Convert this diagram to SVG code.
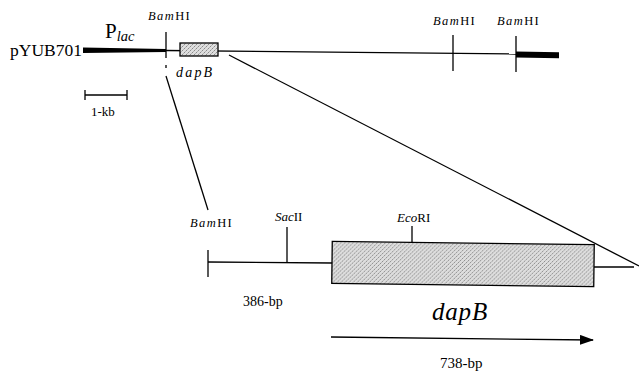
<svg xmlns="http://www.w3.org/2000/svg" width="639" height="373" viewBox="0 0 639 373">
  <defs>
    <!-- stippled fill for the dapB coding region -->
    <pattern id="stipple" width="4" height="4" patternUnits="userSpaceOnUse">
      <rect width="4" height="4" fill="#dedede"/>
      <rect x="0" y="0" width="1" height="1" fill="#8c8c8c"/>
      <rect x="2" y="2" width="1" height="1" fill="#8c8c8c"/>
      <rect x="1" y="3" width="1" height="1" fill="#b4b4b4"/>
      <rect x="3" y="1" width="1" height="1" fill="#b4b4b4"/>
    </pattern>
    <marker id="arrowhead" markerWidth="14" markerHeight="10" refX="13" refY="5" orient="auto" markerUnits="userSpaceOnUse">
      <path d="M0,0 L14,5 L0,10 Z" fill="#000"/>
    </marker>
  </defs>
  <style>
    text { font-family: "Liberation Serif", "Times New Roman", serif; fill: #000; }
    .site { font-size: 12.5px; letter-spacing: 1.4px; }
    .it { font-style: italic; }
    .thin { stroke: #000; stroke-width: 1.3; fill: none; }
    .tick { stroke: #000; stroke-width: 1.3; fill: none; }
    .box { fill: url(#stipple); stroke: #000; stroke-width: 1.3; }
  </style>
  <rect width="639" height="373" fill="#fff"/>

  <!-- plasmid map -->
  <g id="plasmid">
    <text x="10" y="56" font-size="17.5">pYUB701</text>
    <polygon points="83,47.5 166,49 166,52 83,53" fill="#000"/>
    <line class="thin" x1="166" y1="50.5" x2="516" y2="54"/>
    <polygon points="516,51.6 559,52.2 559,58.2 516,57.4" fill="#000"/>
    <text x="105" y="38" font-size="21">P<tspan class="it" font-size="14.5" dy="3">lac</tspan></text>
  </g>

  <g id="bamhi-left">
    <line class="tick" x1="166" y1="32" x2="166" y2="58"/>
    <line class="tick" x1="166" y1="65" x2="166" y2="68"/>
    <text class="site" x="148" y="20"><tspan class="it">Bam</tspan>HI</text>
  </g>

  <g id="dapb-small">
    <rect class="box" x="180" y="43" width="38" height="13"/>
    <text class="it" x="176" y="77" font-size="14" letter-spacing="2.2">dapB</text>
  </g>

  <g id="bamhi-mid">
    <line class="tick" x1="453" y1="35" x2="453" y2="71"/>
    <text class="site" x="433" y="25"><tspan class="it">Bam</tspan>HI</text>
  </g>

  <g id="bamhi-right">
    <line class="tick" x1="516" y1="36" x2="516" y2="72"/>
    <text class="site" x="497" y="25"><tspan class="it">Bam</tspan>HI</text>
  </g>

  <g id="scale-bar">
    <line class="thin" x1="85" y1="95" x2="127" y2="95"/>
    <line class="tick" x1="85" y1="90" x2="85" y2="100"/>
    <line class="tick" x1="127" y1="90" x2="127" y2="100"/>
    <text x="91" y="116" font-size="13">1-kb</text>
  </g>

  <!-- enlarged dapB fragment -->
  <g id="fragment">
    <line class="thin" x1="208" y1="262" x2="332" y2="263"/>
    <line class="thin" x1="594" y1="267" x2="634" y2="267"/>
  </g>

  <g id="bamhi-lower">
    <line class="tick" x1="208" y1="250" x2="208" y2="277"/>
    <text class="site" x="190" y="227"><tspan class="it">Bam</tspan>HI</text>
  </g>

  <g id="sacii">
    <line class="tick" x1="287" y1="227" x2="287" y2="262.5"/>
    <text x="275" y="221" font-size="13"><tspan class="it">Sac</tspan>II</text>
  </g>

  <g id="ecori">
    <line class="tick" x1="412" y1="226" x2="412" y2="243"/>
    <text x="397" y="222" font-size="13"><tspan class="it">Eco</tspan>RI</text>
  </g>

  <g id="dapb-large">
    <rect class="box" x="332" y="243" width="262" height="42" transform="rotate(0.7 463 264)"/>
    <text class="it" x="432" y="320" font-size="25" letter-spacing="0.8">dapB</text>
  </g>

  <g id="len-386">
    <text x="243" y="306" font-size="14">386-bp</text>
  </g>

  <g id="len-738">
    <text x="440" y="368" font-size="15">738-bp</text>
  </g>

  <!-- connectors: zoom-out lines and reading-direction arrow -->
  <g id="connectors">
    <line class="thin" x1="166" y1="76" x2="208" y2="210" stroke-width="1.6"/>
    <line class="thin" x1="229" y1="55" x2="639" y2="266" stroke-width="1.6"/>
    <line class="thin" x1="331" y1="337" x2="593" y2="340" stroke-width="1.4" marker-end="url(#arrowhead)"/>
  </g>
</svg>
